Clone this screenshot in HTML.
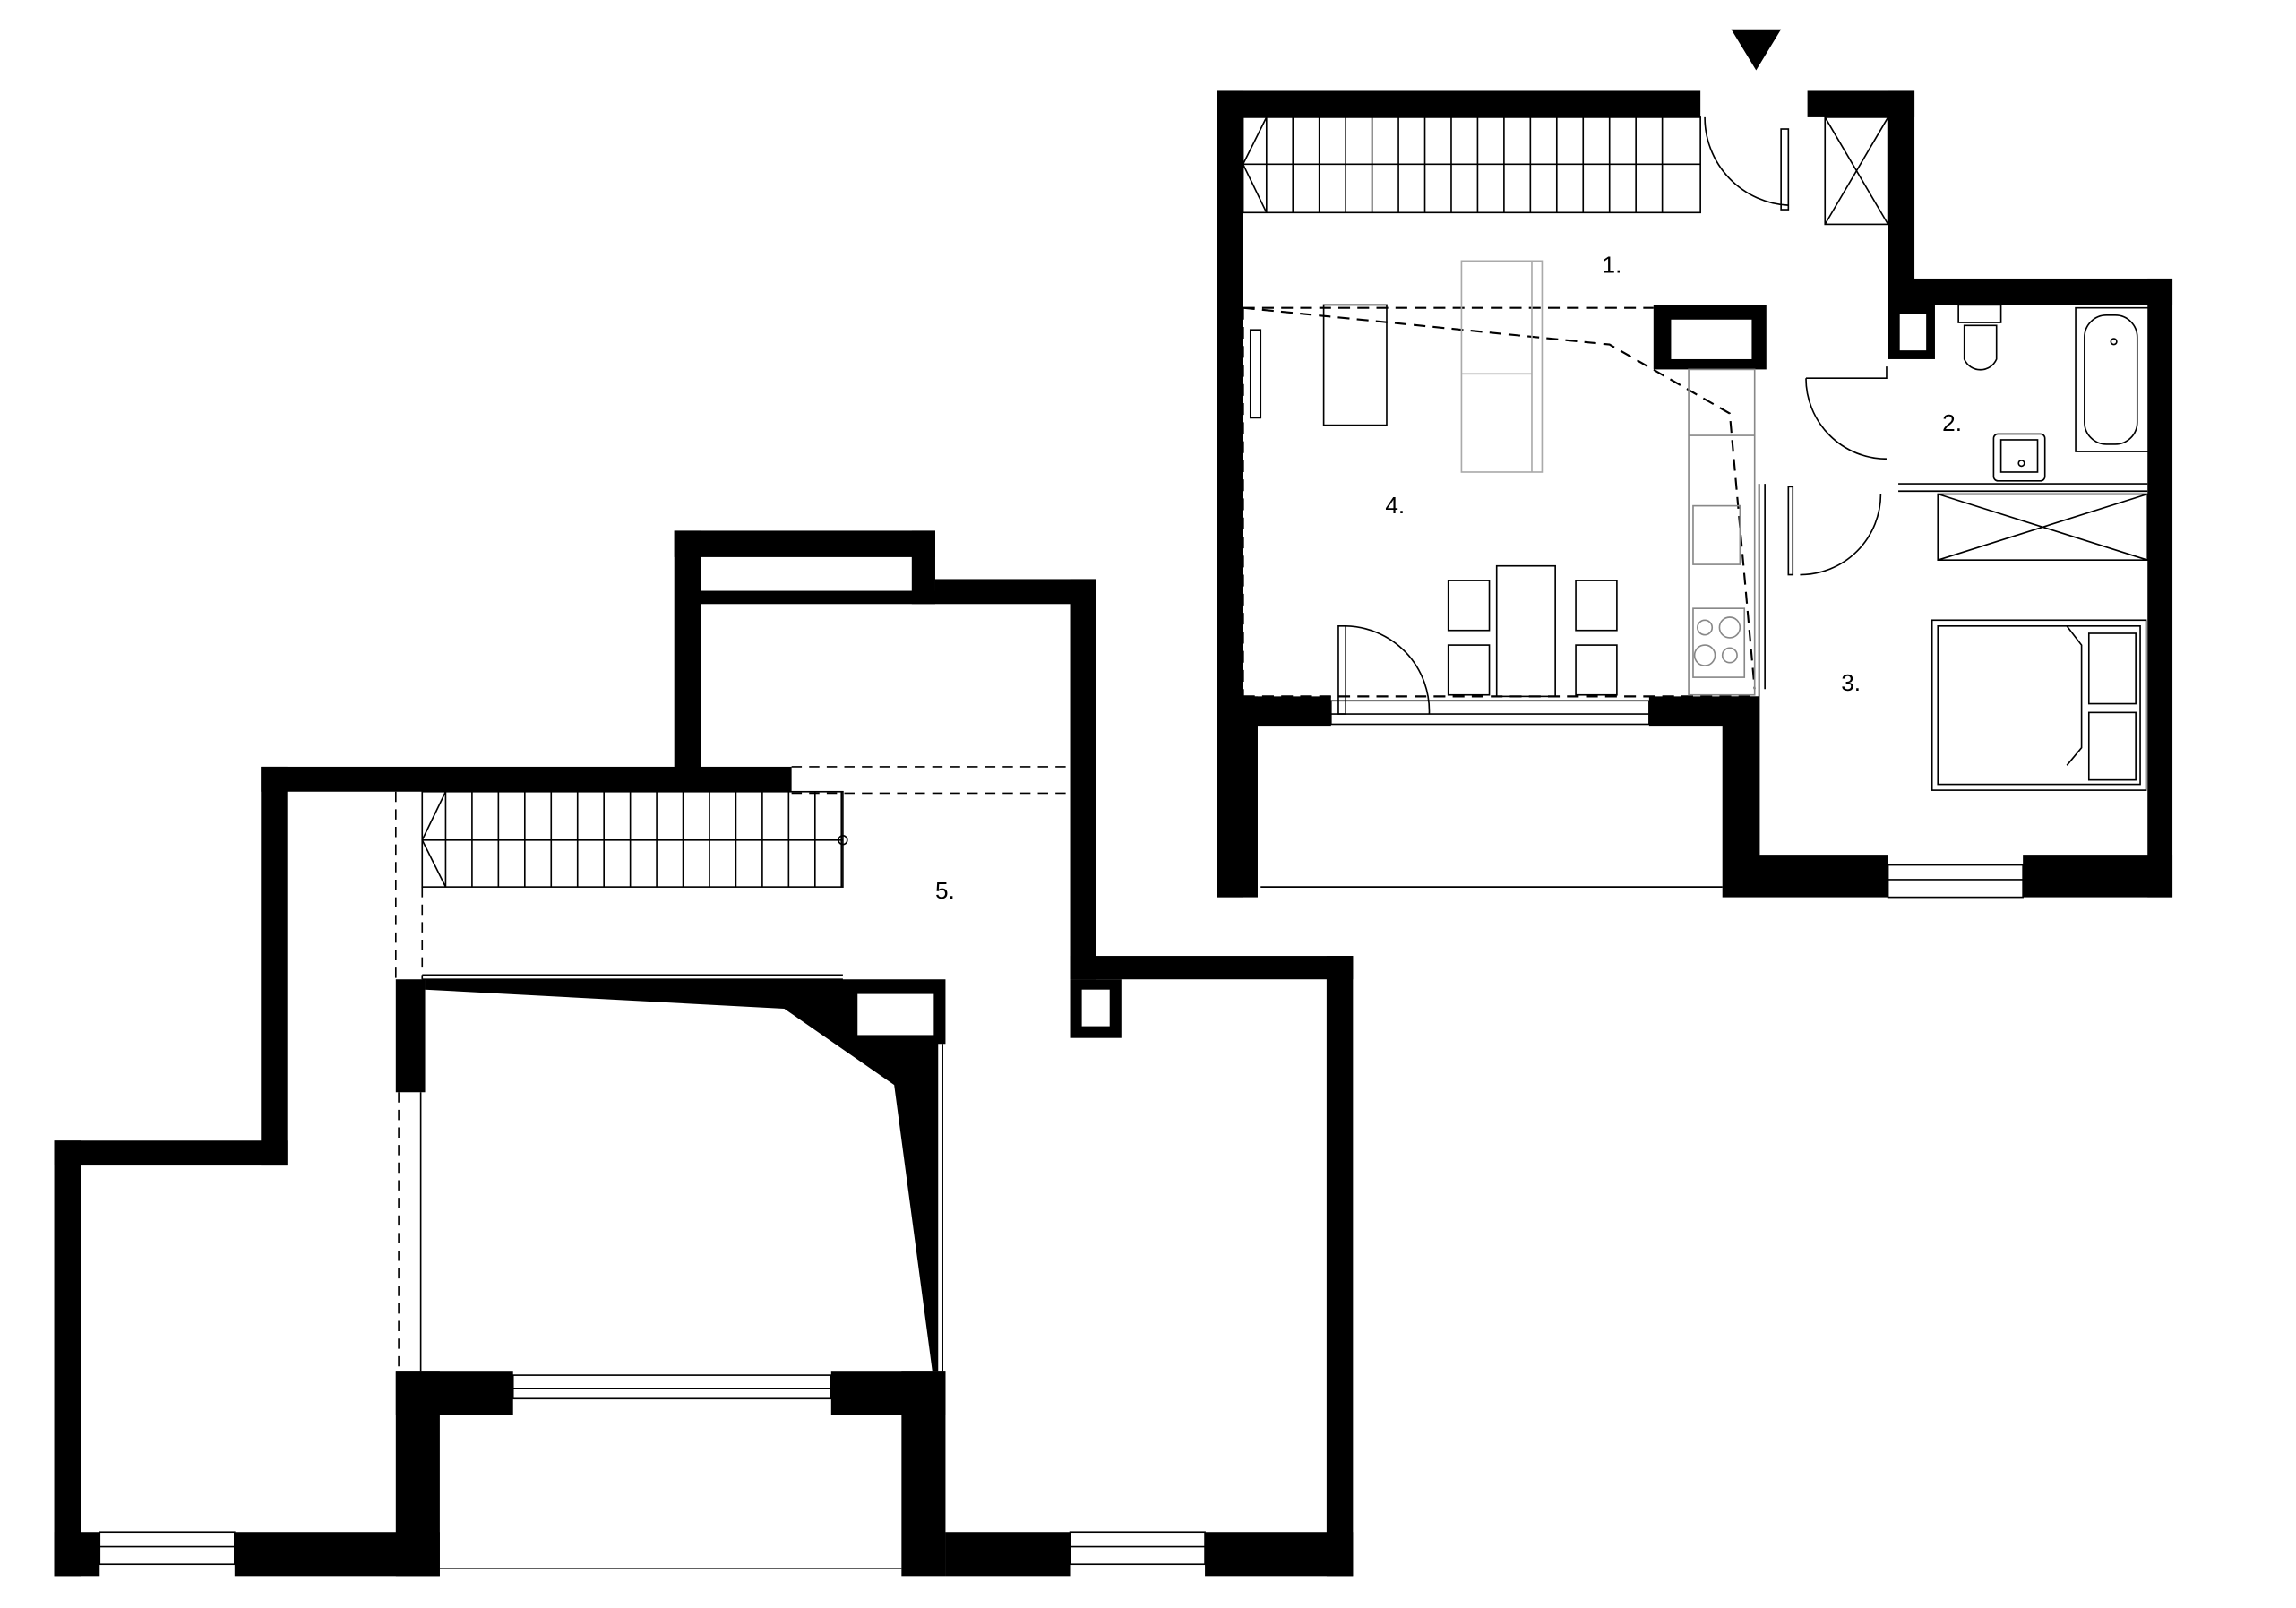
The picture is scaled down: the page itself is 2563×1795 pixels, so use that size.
<!DOCTYPE html>
<html><head><meta charset="utf-8"><style>html,body{margin:0;padding:0;background:#fff}svg{display:block}</style></head>
<body>
<svg width="2563" height="1795" viewBox="0 0 1566.3 1096.8" preserveAspectRatio="none" xmlns="http://www.w3.org/2000/svg" font-family="Liberation Sans, sans-serif">
<rect width="1570" height="1100" fill="#fff"/>
<g fill="#000">
<rect x="830" y="62" width="330" height="18"/>
<rect x="1233" y="62" width="73" height="18"/>
<rect x="830" y="62" width="18" height="550"/>
<rect x="1288" y="62" width="18" height="146"/>
<rect x="1288" y="190" width="194" height="18"/>
<rect x="1465" y="190" width="17" height="422"/>
<rect x="830" y="475" width="78" height="20"/>
<rect x="1125" y="475" width="75" height="20"/>
<rect x="830" y="475" width="28" height="137"/>
<rect x="1175" y="475" width="25" height="137"/>
<rect x="1200" y="583" width="88" height="29"/>
<rect x="1380" y="583" width="102" height="29"/>
<rect x="1128" y="208" width="77" height="44"/>
<rect x="1288" y="208" width="32" height="37"/>
<polygon points="1181,20 1215,20 1198,48"/>
<rect x="460" y="362" width="178" height="18"/>
<rect x="460" y="362" width="18" height="178"/>
<rect x="622" y="362" width="16" height="50"/>
<rect x="478" y="403" width="160" height="9"/>
<rect x="638" y="395" width="110" height="17"/>
<rect x="730" y="395" width="18" height="273"/>
<rect x="730" y="652" width="193" height="16"/>
<rect x="905" y="652" width="18" height="423"/>
<rect x="178" y="523" width="362" height="17"/>
<rect x="178" y="523" width="18" height="272"/>
<rect x="37" y="778" width="159" height="17"/>
<rect x="37" y="778" width="18" height="297"/>
<rect x="37" y="1045" width="31" height="30"/>
<rect x="160" y="1045" width="140" height="30"/>
<rect x="270" y="935" width="30" height="140"/>
<rect x="270" y="935" width="80" height="30"/>
<rect x="567" y="935" width="78" height="30"/>
<rect x="615" y="935" width="30" height="140"/>
<rect x="645" y="1045" width="85" height="30"/>
<rect x="822" y="1045" width="101" height="30"/>
<rect x="270" y="668" width="20" height="77"/>
<polygon points="290,668 645,668 645,712 640,712 640,935 636,935 610,740 535,688 290,675"/>
<rect x="730" y="668" width="35" height="40"/>
</g>
<g fill="#fff">
<rect x="1140" y="218" width="55" height="27"/>
<rect x="1296" y="214" width="18" height="25"/>
<rect x="585" y="678" width="52" height="28"/>
<rect x="738" y="675" width="19" height="25"/>
</g>
<g fill="none" stroke="#000" stroke-width="1">
<rect x="848" y="80" width="312" height="65"/>
<line x1="848" y1="112" x2="1160" y2="112"/>
<path d="M864,80 L848,112 L864,145"/>
<g id="st"><line x1="864" y1="80" x2="864" y2="145"/><line x1="882" y1="80" x2="882" y2="145"/><line x1="900" y1="80" x2="900" y2="145"/><line x1="918" y1="80" x2="918" y2="145"/><line x1="936" y1="80" x2="936" y2="145"/><line x1="954" y1="80" x2="954" y2="145"/><line x1="972" y1="80" x2="972" y2="145"/><line x1="990" y1="80" x2="990" y2="145"/><line x1="1008" y1="80" x2="1008" y2="145"/><line x1="1026" y1="80" x2="1026" y2="145"/><line x1="1044" y1="80" x2="1044" y2="145"/><line x1="1062" y1="80" x2="1062" y2="145"/><line x1="1080" y1="80" x2="1080" y2="145"/><line x1="1098" y1="80" x2="1098" y2="145"/><line x1="1116" y1="80" x2="1116" y2="145"/><line x1="1134" y1="80" x2="1134" y2="145"/></g>
<path d="M1163,80 A60,60 0 0 0 1220,140"/><rect x="1215" y="88" width="5" height="55"/>
<rect x="1245" y="80" width="43" height="73"/><path d="M1245,80 L1288,153 M1288,80 L1245,153"/>
<path stroke-dasharray="8,5" stroke-width="1.3" d="M848,210 L1128,210 M848,210 L1098,235 L1180,282 L1197,470 M848,475 L1198,475 M848,210 L848,475"/>
<rect x="853" y="225" width="7" height="60"/>
<rect x="903" y="208" width="43" height="82"/>
<rect x="997" y="178" width="55" height="144" stroke="#aaa"/>
<path d="M1045,178 L1045,322 M997,255 L1045,255" stroke="#aaa"/>
<rect x="1152" y="252" width="45" height="222" stroke="#888"/>
<line x1="1152" y1="297" x2="1197" y2="297" stroke="#888"/>
<rect x="1155" y="345" width="32" height="40" stroke="#888"/>
<rect x="1155" y="415" width="35" height="47" stroke="#888"/>
<circle cx="1163" cy="428" r="5" stroke="#888"/><circle cx="1180" cy="428" r="7" stroke="#888"/><circle cx="1163" cy="447" r="7" stroke="#888"/><circle cx="1180" cy="447" r="5" stroke="#888"/>
<rect x="1021" y="386" width="40" height="89"/>
<rect x="988" y="396" width="28" height="34"/><rect x="988" y="440" width="28" height="34"/>
<rect x="1075" y="396" width="28" height="34"/><rect x="1075" y="440" width="28" height="34"/>
<rect x="913" y="427" width="5" height="60"/><path d="M918,427 A58,58 0 0 1 975,487"/>
<rect x="908" y="478" width="217" height="16"/><line x1="908" y1="487" x2="1125" y2="487"/>
<line x1="860" y1="605" x2="1175" y2="605"/>
<rect x="1336" y="208" width="29" height="12"/><path d="M1340,222 L1340,245 A12,12 0 0 0 1362,245 L1362,222 Z"/>
<rect x="1416" y="210" width="50" height="98"/><rect x="1422" y="215" width="36" height="88" rx="15"/><circle cx="1442" cy="233" r="2"/>
<rect x="1360" y="296" width="35" height="32" rx="3"/><rect x="1365" y="300" width="25" height="22"/><circle cx="1379" cy="316" r="2"/>
<path d="M1232,258 A55,55 0 0 0 1287,313"/><path d="M1232,258 L1287,258 L1287,250"/>
<line x1="1295" y1="330" x2="1465" y2="330"/><line x1="1295" y1="335" x2="1465" y2="335"/>
<path d="M1228,392 A55,55 0 0 0 1283,337"/><rect x="1220" y="332" width="3" height="60"/>
<line x1="1200" y1="330" x2="1200" y2="583"/><line x1="1204" y1="330" x2="1204" y2="470"/>
<rect x="1322" y="337" width="143" height="45"/><path d="M1322,337 L1465,382 M1465,337 L1322,382"/>
<rect x="1318" y="423" width="146" height="116"/><rect x="1322" y="427" width="138" height="108"/>
<path d="M1410,427 L1420,440 L1420,510 L1410,522"/>
<rect x="1425" y="432" width="32" height="48"/><rect x="1425" y="486" width="32" height="46"/>
<rect x="1288" y="590" width="92" height="22"/><line x1="1288" y1="600" x2="1380" y2="600"/>
<rect x="288" y="540" width="287" height="65"/>
<line x1="288" y1="573" x2="575" y2="573"/>
<path d="M304,540 L288,573 L304,605"/>
<g transform="translate(-560,460)"><use href="#st"/></g>
<circle cx="575" cy="573" r="3"/>
<path stroke-dasharray="7,5" d="M540,523 L730,523 M540,541 L730,541 M270,540 L270,668 M288,605 L288,668 M272,745 L272,935"/>
<line x1="288" y1="665" x2="575" y2="665"/><line x1="288" y1="668" x2="575" y2="668"/>
<line x1="287" y1="745" x2="287" y2="935"/>
<line x1="643" y1="712" x2="643" y2="935"/>
<rect x="350" y="938" width="217" height="16"/><line x1="350" y1="947" x2="567" y2="947"/>
<line x1="300" y1="1070" x2="615" y2="1070"/>
<rect x="68" y="1045" width="92" height="22"/><line x1="68" y1="1055" x2="160" y2="1055"/>
<rect x="730" y="1045" width="92" height="22"/><line x1="730" y1="1055" x2="822" y2="1055"/>
</g>
<g font-size="16" fill="#000">
<text x="1093" y="186">1.</text>
<text x="1325" y="294">2.</text>
<text x="1256" y="471">3.</text>
<text x="945" y="350">4.</text>
<text x="638" y="613">5.</text>
</g>
</svg>
</body></html>
